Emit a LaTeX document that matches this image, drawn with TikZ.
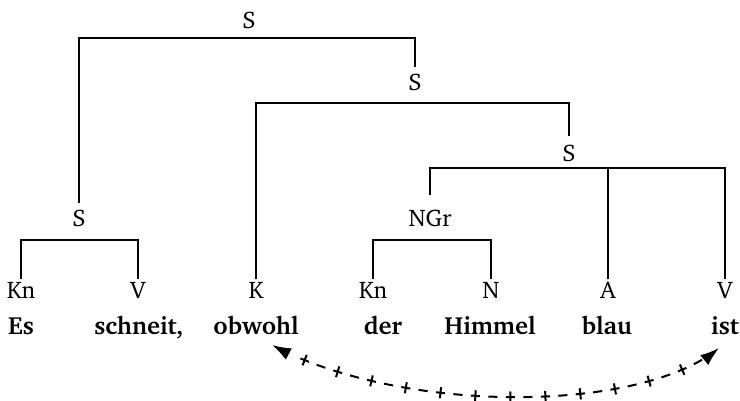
\documentclass[tikz,border=0pt]{standalone}
\usepackage[T1]{fontenc}
\renewcommand{\rmdefault}{bch}
\usetikzlibrary{arrows.meta,decorations.markings}
\tikzset{
  lab/.style={anchor=base, inner sep=0pt, font=\fontsize{12}{14}\selectfont},
  wrd/.style={anchor=base, inner sep=0pt, font=\fontsize{12.4}{14}\selectfont\bfseries},
  tree/.style={line width=0.65pt},
  tick/.style={solid, -, line width=1pt, line cap=butt},
  link/.style={line width=1pt, {Latex[length=9.5pt,width=6.4pt]}-{Latex[length=9.5pt,width=6.4pt]},
    dash pattern=on 0pt off 10000pt,
    postaction={decorate},
    decoration={markings,
      mark=between positions 18pt and -9pt step 8.75pt with {
        \draw[tick] (-2.3pt,0) -- (2.3pt,0);
        \pgfkeysgetvalue{/pgf/decoration/mark info/sequence number}\myseqn
        \ifodd\myseqn \draw[tick] (0,-2.8pt) -- (0,2.8pt);\fi
      }}}
}
\begin{document}
\begin{tikzpicture}[x=0.5pt,y=-0.5pt]
\useasboundingbox (0,0) rectangle (740,401);
% inner labels
\node[lab] (S1) at (249,29) {S};
\node[lab] (S2) at (415,91) {S};
\node[lab] (S3) at (569,162) {S};
\node[lab] (Sa) at (79,227) {S};
\node[lab] (NGr) at (430,227) {NGr};
% leaf labels
\node[lab] (Kn1) at (21,299) {Kn};
\node[lab] (V1) at (138,299) {V};
\node[lab] (K) at (256,299) {K};
\node[lab] (Kn2) at (373,299) {Kn};
\node[lab] (N) at (491,299) {N};
\node[lab] (A) at (608,299) {A};
\node[lab] (V2) at (725,299) {V};
% words
\node[wrd] (w1) at (21,335) {Es};
\node[wrd] (w2) at (139,335) {schneit,};
\node[wrd] (w3) at (256,335) {obwohl};
\node[wrd] (w4) at (383,335) {der};
\node[wrd] (w5) at (490,335) {Himmel};
\node[wrd] (w6) at (607,335) {blau};
\node[wrd] (w7) at (725,335) {ist};
% tree
\draw[tree] ([yshift=3.5pt]Sa.north) |- ([yshift=-4.5pt]S1.base) -| ([yshift=3.5pt]S2.north);
\draw[tree] ([yshift=1.5pt]K.north) |- ([yshift=-6pt]S2.base) -| ([yshift=4.5pt]S3.north);
\coordinate (b3) at ([yshift=-3pt]S3.base);
\draw[tree] ([yshift=7.5pt]NGr.north) |- (b3) -| ([yshift=1.5pt]V2.north);
\draw[tree] ([yshift=1.5pt]A.north) -- (A.north |- b3);
\draw[tree] ([yshift=1.5pt]Kn1.north) |- ([yshift=-6.5pt]Sa.base) -| ([yshift=1.5pt]V1.north);
\draw[tree] ([yshift=1.5pt]Kn2.north) |- ([yshift=-6.5pt]NGr.base) -| ([yshift=1.5pt]N.north);
% dependency arrow
\draw[link] ([shift={(16,10)}]w3.base) .. controls (401,414) and (639,414) .. ([shift={(-6,13)}]w7.base);
\end{tikzpicture}
\end{document}
